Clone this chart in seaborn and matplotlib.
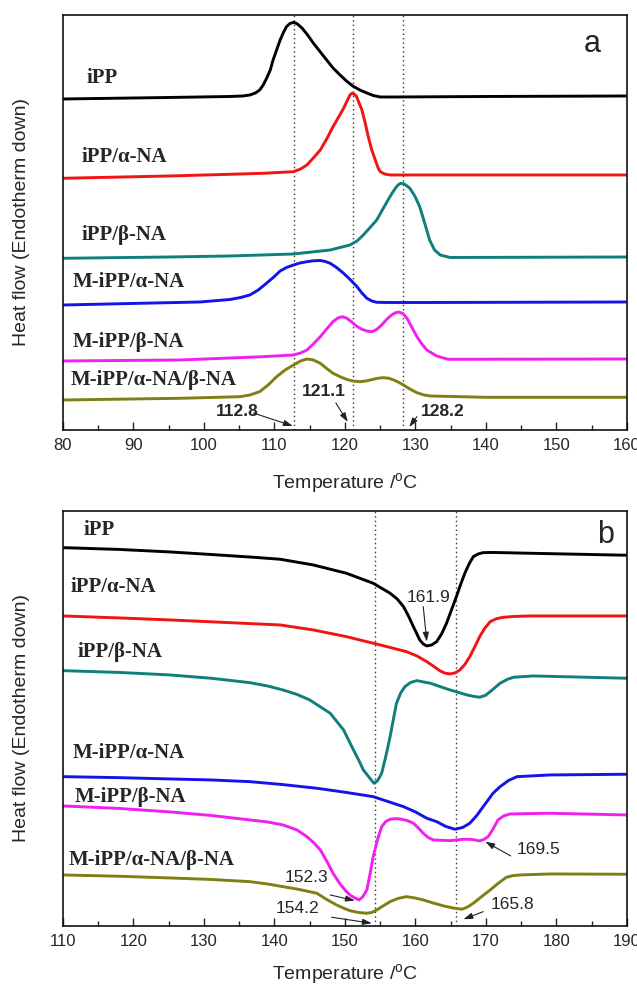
import pandas as pd
import matplotlib
matplotlib.use('Agg')
import matplotlib.pyplot as plt
import seaborn as sns
from matplotlib.ticker import MultipleLocator

# ---- Panel a: crystallisation (cooling) curves, heat flow in arbitrary units ----
a_ipp_T = [80, 95, 103.7, 105.5, 106.5, 107.3, 107.9, 108.4, 108.9, 109.4, 109.8, 110.3, 110.8, 111.3, 111.7, 112.2, 112.7,
           113.2, 113.9, 114.7, 115.5, 116.5, 117.4, 118.3, 119.3, 120.2, 121.1, 122.1, 123.1, 124.0, 125.0, 127.3, 140, 160]
a_ipp_y = [331, 332.5, 333.5, 334, 335, 337, 340, 345, 352, 360, 370, 380, 390, 398, 403.3, 406.5, 407.7,
           406.3, 402, 395, 387, 378, 370, 362, 355, 349, 344, 340, 337, 334.5, 333, 333, 333.5, 334]

a_alpha_T = [80, 95, 103.7, 108.4, 112.7, 113.7, 114.6, 115.5, 116.5, 117.4, 118.3, 119.1, 119.8, 120.3, 120.7, 121.0, 121.3,
             121.6, 122.0, 122.4, 122.9, 123.3, 123.8, 124.3, 124.7, 125.0, 125.6, 126.4, 140, 160]
a_alpha_y = [251.7, 254, 255.7, 256.7, 258.3, 261, 265, 272, 280, 291, 303.3, 313, 321.7, 329, 335, 336.7, 335.8,
             334, 327, 320, 306, 293.3, 280, 270, 262, 258.3, 256, 255, 255, 255]

a_beta_T = [80, 95, 103.7, 112.7, 117.9, 120.7, 121.7, 122.6, 123.5, 124.5, 125.3, 126.1, 126.7, 127.3, 127.7, 128.0, 128.4,
            128.8, 129.2, 129.9, 130.6, 131.3, 132.0, 132.7, 133.5, 134.9, 145, 160]
a_beta_y = [171.7, 173, 174, 176, 180, 185, 189, 195, 202, 210, 220, 230, 237, 243.3, 246, 246.7, 246,
            244, 241.7, 234, 223.3, 207, 190, 180, 175, 172.5, 172.7, 173]

a_m_alpha_T = [80, 99.4, 103.7, 105.2, 106.5, 107.7, 108.9, 109.9, 110.8, 111.7, 112.7, 113.6, 114.6, 115.5, 116.5, 117.2,
               117.9, 118.8, 119.8, 120.8, 121.7, 122.4, 123.1, 123.8, 124.5, 126, 132.1, 160]
a_m_alpha_y = [125, 128, 130.5, 132.5, 135, 140, 147, 153, 159, 162.5, 165, 167, 168.3, 169.2, 169.5, 168.5,
               166.7, 162.5, 156.7, 150, 143.3, 137, 131.7, 129, 127.7, 127.5, 127.5, 128]

a_m_beta_T = [80, 96.6, 108.4, 112.7, 113.7, 114.6, 115.5, 116.5, 117.4, 118.3, 119.0, 119.6, 120.2, 120.9, 121.6, 122.4,
              123.1, 123.8, 124.5, 125.2, 125.9, 126.6, 127.1, 127.6, 128.2, 128.8, 129.5, 130.2, 130.9, 131.6, 133.0, 134.6, 160]
a_m_beta_y = [69, 70, 73.3, 75, 77, 80, 86, 93.3, 101, 108.3, 112, 113.3, 112, 108.3, 104, 100.7,
              99, 98.3, 100.5, 105, 110.5, 115, 117, 118, 116.5, 111.7, 102.5, 93.3, 86, 80, 74, 70.7, 71]

a_m_ab_T = [80, 96.6, 105.1, 106.5, 107.9, 109.1, 110.3, 111.5, 112.7, 113.7, 114.6, 115.5, 116.5, 117.4, 118.3, 119.3,
            120.2, 121.1, 122.1, 123.0, 124.0, 124.7, 125.4, 126.2, 126.9, 127.6, 128.3, 129.2, 130.2, 131.2, 132.1, 140, 160]
a_m_ab_y = [30, 31.7, 33.3, 35, 38.3, 45, 53.3, 60, 65, 69, 71, 70, 66.7, 61.5, 56.7, 53.3,
            50.7, 49, 48.3, 49, 50.7, 51.8, 52.3, 51.8, 50, 47.8, 45, 41, 37.3, 35, 34, 32.7, 32.7]

# ---- Panel b: melting (heating) curves ----
b_ipp_T = [110, 118, 125.2, 132, 137, 140.8, 145.5, 150.2, 154.0, 156.4, 157.4, 158.3, 159.0, 159.7, 160.2, 160.6, 161.1,
           161.6, 162.3, 163.0, 163.7, 164.4, 165.1, 165.8, 166.4, 167.0, 167.6, 168.2, 168.9, 169.6, 171, 176.2, 190]
b_ipp_y = [378.3, 376.5, 374, 371, 368.7, 366.7, 361, 352.7, 342.7, 332.7, 327, 319.3, 310, 299.3, 292, 286, 282,
           280, 281, 284.3, 292, 302.7, 316, 329.3, 341.5, 352.7, 362, 369.3, 372, 373.3, 373.5, 372.7, 370.7]

b_alpha_T = [110, 118, 125.2, 133, 140.8, 145.5, 150.2, 155.0, 158.7, 160.2, 161.6, 162.6, 163.5, 164.2, 164.9, 165.6,
             166.3, 167.0, 167.7, 168.4, 169.1, 169.8, 170.6, 171.5, 172.5, 174, 176.2, 190]
b_alpha_y = [310, 308, 306, 303.5, 301, 296, 289.3, 281, 274.3, 270, 264.3, 259.5, 255, 252.8, 252, 253,
             256, 261.5, 269.3, 279, 289.3, 297.5, 304.3, 307.3, 308.7, 309.5, 310, 310]

b_beta_T = [110, 118, 125.2, 131, 136.5, 139, 141.2, 143.2, 145.0, 147.9, 149.8, 151.2, 152.0, 152.6, 153.5, 154.1, 154.6,
            155.2, 155.8, 156.4, 156.9, 157.3, 157.9, 158.5, 159.3, 160.2, 162.1, 164.9, 167.3, 168.3, 169.1, 169.9,
            170.6, 171.3, 172.0, 173.0, 173.9, 176.7, 190]
b_beta_y = [255.3, 253.5, 251, 247.7, 243.3, 240, 236, 231.5, 226, 212.7, 196, 176, 165, 156, 148, 142.7, 145,
            152.7, 170, 189.3, 208, 222.7, 233, 239.3, 243.5, 245.3, 242.7, 236, 231, 229.5, 228.7, 230.5,
            234.3, 238.5, 242.7, 246.5, 248.7, 250, 247.7]

b_m_alpha_T = [110, 118, 125.2, 131, 136.5, 141, 146.0, 150, 154.0, 158.3, 160.0, 161.6, 163.0, 164.3, 165.6, 166.7,
               167.7, 168.7, 169.6, 170.3, 171.0, 172.0, 173.2, 174.4, 179.1, 190]
b_m_alpha_y = [149.3, 148.3, 147, 146, 144.3, 141.5, 137.7, 133.7, 129.3, 119.3, 114, 107.7, 104.3, 99.5, 96.7, 98.5,
               102.7, 110.5, 119.3, 126, 132.7, 139.3, 145.5, 149.3, 151, 151.7]

b_m_beta_T = [110, 118, 125.2, 131, 136.5, 139, 141.2, 143.2, 144.6, 145.6, 146.5, 147.4, 148.3, 149.3, 150.2, 150.8,
              151.4, 152.0, 152.5, 153.1, 153.5, 154.0, 154.6, 155.2, 155.8, 156.4, 157.1, 157.8, 158.8, 159.7, 160.4,
              161.1, 161.8, 162.5, 164.9, 166.8, 168.0, 169.1, 169.7, 170.3, 171.0, 171.7, 172.5, 173.4, 179.1, 190]
b_m_beta_y = [120, 117.5, 114, 110.5, 106, 104, 101, 96, 89.3, 83, 76, 65, 52.7, 42, 34.3, 30.5,
              28, 26, 29, 36, 50, 69.3, 86, 99.3, 104.5, 106.7, 107.3, 107, 105.5, 102.7, 98,
              92.7, 88.5, 86, 85.3, 86.7, 86.5, 85, 86.5, 89.3, 97, 106, 110, 112, 112.7, 111]

b_m_ab_T = [110, 118, 125.2, 131, 136.5, 139, 141.2, 143.5, 146.0, 147.4, 148.8, 149.8, 150.7, 151.9, 153.1, 153.8, 154.5,
            155.4, 156.4, 157.5, 158.7, 159.9, 161.1, 162.5, 164.0, 165.3, 166.6, 167.4, 168.2, 169.4, 170.6, 171.7,
            172.9, 173.8, 174.8, 179.1, 190]
b_m_ab_y = [51, 49.7, 48, 46.5, 44.3, 42, 39.3, 36.5, 32.7, 26.5, 21, 17.8, 15.3, 13.5, 12.7, 13.5, 16,
            20, 24.3, 27.5, 29.3, 28, 26, 23, 20, 18, 16.7, 19, 22.7, 29.5, 36, 42.5,
            48.7, 50.3, 51, 52, 51.7]

sample_names = ['iPP', 'iPP/α-NA', 'iPP/β-NA', 'M-iPP/α-NA', 'M-iPP/β-NA', 'M-iPP/α-NA/β-NA']
colors = ['#000000', '#f01414', '#0f7f7c', '#1414e6', '#f020f0', '#7f7f14']

a_peaks = [112.8, 121.1, 128.2]
b_peaks = [154.2, 165.8]

sns.set_style('white')
plt.rcParams['font.family'] = ['Liberation Sans', 'DejaVu Sans']
plt.rcParams['mathtext.default'] = 'regular'

fig = plt.figure(figsize=(6.37, 9.86), dpi=100)
ax_a = fig.add_axes([0.0989, 0.5639, 0.8854, 0.4209])
ax_b = fig.add_axes([0.0989, 0.0609, 0.8854, 0.4209])


def draw_panel(ax, curves, peaks, xlim, label_pos):
    for (T, y), name, c in zip(curves, sample_names, colors):
        df = pd.DataFrame({'T': T, 'hf': y})
        sns.lineplot(data=df, x='T', y='hf', ax=ax, color=c, lw=2.1,
                     estimator=None, sort=False, solid_joinstyle='round', solid_capstyle='round')
    for p in peaks:
        ax.axvline(p, color='#333333', ls=(0, (1, 2.2)), lw=1.0, zorder=0)
    for name, (x, y) in zip(sample_names, label_pos):
        ax.text(x, y, name, family=['Liberation Serif', 'DejaVu Serif'],
                fontweight='bold', fontsize=15, ha='left', va='center')
    ax.set_xlim(*xlim)
    ax.set_ylim(0, 415)
    ax.xaxis.set_major_locator(MultipleLocator(10))
    ax.xaxis.set_minor_locator(MultipleLocator(5))
    ax.tick_params(axis='x', which='both', direction='in', bottom=True, top=False,
                   labelsize=12, width=1.0, color='#222222', pad=6)
    ax.tick_params(axis='x', which='major', length=6)
    ax.tick_params(axis='x', which='minor', length=3.5)
    ax.set_yticks([])
    for s in ax.spines.values():
        s.set_color('#111111')
        s.set_linewidth(1.2)
    ax.set_xlabel('Temperature /$^o$C', fontsize=14)
    ax.set_ylabel('Heat flow (Endotherm down)', fontsize=14)
    ax.yaxis.set_label_coords(-0.058, 0.5)


def arrow(ax, tail, head):
    ax.annotate('', xy=head, xytext=tail,
                arrowprops=dict(arrowstyle='-|>,head_length=0.55,head_width=0.18',
                                color='#222222', lw=0.8, shrinkA=0, shrinkB=0))


curves_a = [(a_ipp_T, a_ipp_y), (a_alpha_T, a_alpha_y), (a_beta_T, a_beta_y),
            (a_m_alpha_T, a_m_alpha_y), (a_m_beta_T, a_m_beta_y), (a_m_ab_T, a_m_ab_y)]
labels_a = [(83.4, 352), (82.6, 273), (82.6, 195), (81.4, 148.3), (81.3, 88.3), (81.1, 50)]
draw_panel(ax_a, curves_a, a_peaks, (80, 160), labels_a)
ax_a.xaxis.set_label_coords(0.5, -0.098)
ax_a.text(0.938, 0.93, 'a', transform=ax_a.transAxes, fontsize=22, ha='center', va='center')

for txt, tx, ty, tail, head in [('112.8', 104.7, 18.3, (107.0, 17), (112.6, 4)),
                                ('121.1', 117.0, 38.3, (118.7, 27), (120.4, 8)),
                                ('128.2', 133.8, 18.3, (130.2, 13.3), (129.1, 3))]:
    ax_a.text(tx, ty, txt, fontsize=12.5, fontweight='bold', ha='center', va='center')
    arrow(ax_a, tail, head)

curves_b = [(b_ipp_T, b_ipp_y), (b_alpha_T, b_alpha_y), (b_beta_T, b_beta_y),
            (b_m_alpha_T, b_m_alpha_y), (b_m_beta_T, b_m_beta_y), (b_m_ab_T, b_m_ab_y)]
labels_b = [(112.9, 396), (111.1, 338.7), (112.0, 274.3), (111.4, 172.7), (111.6, 128.7), (110.8, 66)]
draw_panel(ax_b, curves_b, b_peaks, (110, 190), labels_b)
ax_b.xaxis.set_label_coords(0.5, -0.088)
ax_b.text(0.962, 0.942, 'b', transform=ax_b.transAxes, fontsize=22, ha='center', va='center')

for txt, tx, ty, tail, head in [('161.9', 161.9, 328, (161.1, 319.3), (161.6, 284.3)),
                                ('169.5', 177.5, 76.7, (173.5, 70), (169.9, 84.3)),
                                ('152.3', 144.5, 48.7, (147.9, 31), (151.4, 25.3)),
                                ('154.2', 143.2, 17.7, (148.1, 8.7), (153.8, 2.7)),
                                ('165.8', 173.7, 21, (169.6, 14.3), (166.8, 6.7))]:
    ax_b.text(tx, ty, txt, fontsize=12.5, ha='center', va='center')
    arrow(ax_b, tail, head)

fig.savefig('out.png', dpi=100)
